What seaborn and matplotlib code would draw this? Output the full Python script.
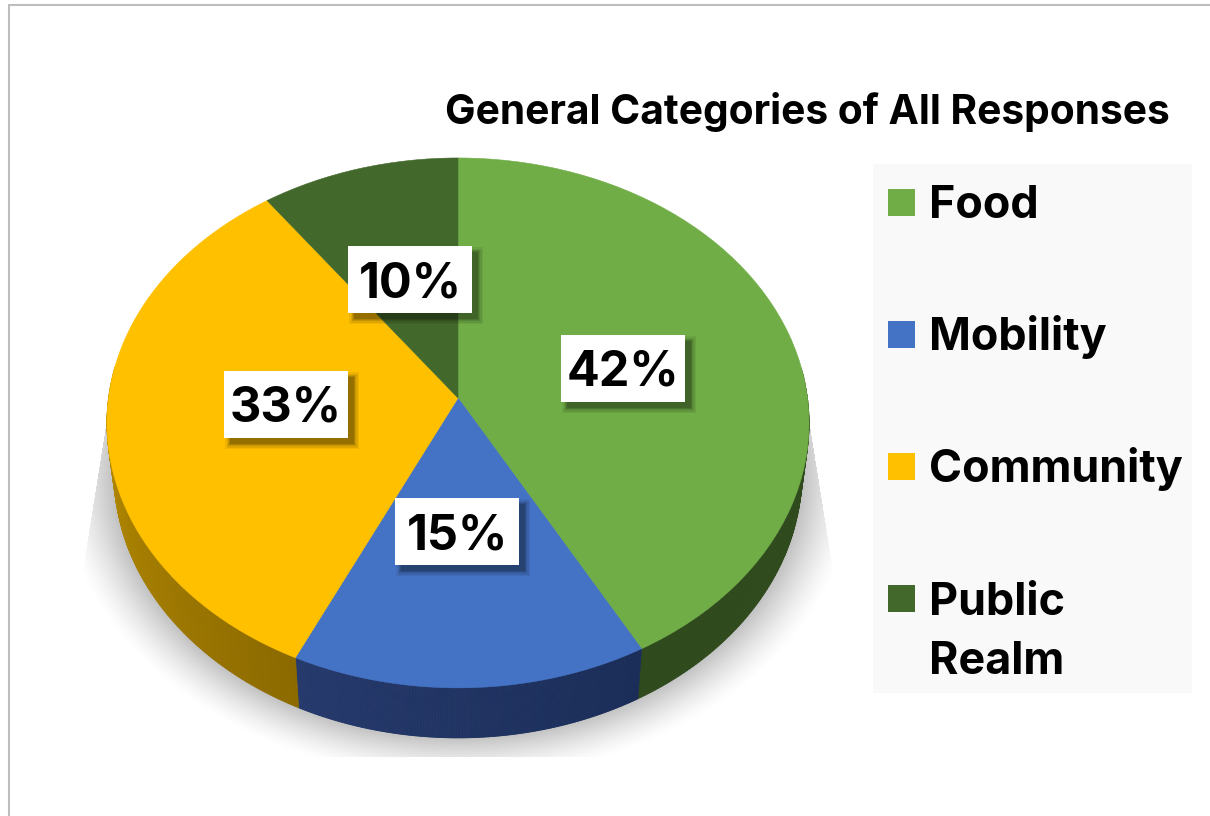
import numpy as np
import matplotlib
matplotlib.use("Agg")
import matplotlib.pyplot as plt
import seaborn as sns
from matplotlib.collections import PolyCollection
from matplotlib.colors import to_rgb
from matplotlib.patches import Rectangle
from matplotlib.path import Path
from matplotlib.transforms import Affine2D, Transform

categories = ["Food", "Mobility", "Community", "Public Realm"]
legend_labels = ["Food", "Mobility", "Community", "Public\nRealm"]
shares = [42, 15, 33, 10]
top_colors = ["#70ad47", "#4472c4", "#ffc000", "#43682b"]
wall_left = ["#2f4a1c", "#25396c", "#bd9000", "#2f4a1c"]
wall_right = ["#2f4a1c", "#1a2d58", "#8c6a00", "#2f4a1c"]

sns.set_theme(style="white")
plt.rcParams["font.family"] = ["Inter", "DejaVu Sans"]

# Tilted-disc geometry, in canvas pixels
APEX_X, APEX_Y = 458.0, 398.0
RADIUS_X, RADIUS_Y, TILT = 349.5, 262.6, 0.094
DEPTH, WALL_SHRINK = 50.0, 0.98


def project(xy):
    xy = np.asarray(xy, dtype=float)
    w = 1.0 + TILT * xy[..., 1]
    return np.stack([APEX_X + RADIUS_X * xy[..., 0] / w,
                     APEX_Y - RADIUS_Y * xy[..., 1] / w], axis=-1)


class TiltProjection(Transform):
    input_dims = output_dims = 2
    is_affine = False

    def transform_non_affine(self, values):
        return project(values)

    def transform_path_non_affine(self, path):
        fine = path.transformed(Affine2D().scale(600)).to_polygons(closed_only=True)[0] / 600
        return Path(project(fine), closed=True)


fig = plt.figure(figsize=(12.10, 8.16), dpi=100, facecolor="white")
ax = fig.add_axes([0, 0, 1, 1])

wedges, _ = ax.pie(shares, colors=top_colors, startangle=90, counterclock=False, radius=1.0)
ax.set_aspect("auto")
ax.axis("off")

# Soft cast shadow below the disc
gx, gy = np.meshgrid(np.arange(1210) + 0.5, np.arange(816) + 0.5)
reach = (np.hypot((gx - APEX_X) / 345.0, (gy - 473.0) / 265.0) - 1.0) * 300.0
fade = np.clip(reach / 48.0, 0, 1)
alpha = 0.24 * (1 - fade) ** 1.4
alpha[(gy < 415) | (gy > 757)] = 0
alpha[gx < 107 - (gy - 420) * 0.16] = 0
alpha[gx > 809 + (gy - 420) * 0.16] = 0
rgba = np.zeros((816, 1210, 4))
rgba[..., 3] = alpha
ax.imshow(rgba, extent=(0, 1210, 816, 0), aspect="auto", zorder=1, interpolation="bilinear")
ax.set_xlim(0, 1210)
ax.set_ylim(816, 0)

# Outer wall of every slice, shaded from left to right; only the front half shows
for wedge, c_left, c_right in zip(wedges, wall_left, wall_right):
    angles = np.radians(np.linspace(wedge.theta1, wedge.theta2, 240))
    angles = angles[np.sin(angles) < 0.12]
    if angles.size < 2:
        continue
    rim = project(np.column_stack([np.cos(angles), np.sin(angles)]))
    foot = np.column_stack([APEX_X + (rim[:, 0] - APEX_X) * WALL_SHRINK, rim[:, 1] + DEPTH])
    order = np.argsort(rim[:, 0])
    rim, foot = rim[order], foot[order]
    quads = [[rim[i], rim[i + 1], foot[i + 1], foot[i]] for i in range(len(rim) - 1)]
    mix = np.linspace(0, 1, len(quads))[:, None]
    shades = np.array(to_rgb(c_left)) * (1 - mix) + np.array(to_rgb(c_right)) * mix
    ax.add_collection(PolyCollection(quads, facecolors=shades, edgecolors=shades, linewidths=0.6, zorder=2))

# Top faces of the slices
for wedge, color in zip(wedges, top_colors):
    wedge.set_transform(TiltProjection() + ax.transData)
    wedge.set_edgecolor(color)
    wedge.set_linewidth(0.4)
    wedge.set_zorder(3)

# Value labels on white plates with a soft offset shadow
plate_w, plate_h = 124, 67
plates = [(561, 335), (395, 498), (224, 371), (348, 246)]
for value, (px, py) in zip(shares, plates):
    for grow, a in zip((5, 3.5, 2, 1, 0), (0.06, 0.08, 0.1, 0.12, 0.14)):
        ax.add_patch(Rectangle((px + 6 - grow, py + 6 - grow), plate_w + 2 * grow, plate_h + 2 * grow,
                               facecolor="black", edgecolor="none", alpha=a, zorder=4))
    ax.add_patch(Rectangle((px, py), plate_w, plate_h, facecolor="white", edgecolor="none", zorder=5))
    ax.text(px + plate_w / 2, py + 51, f"{value}%", ha="center", va="baseline",
            fontsize=35, fontweight="bold", color="black", zorder=6)

# Legend panel
ax.add_patch(Rectangle((873, 164), 319, 529, facecolor="#f9f9f9", edgecolor="none", zorder=1))
rows = [218, 350, 482, 614]
for label, color, base in zip(legend_labels, top_colors, rows):
    ax.add_patch(Rectangle((888, base - 29), 27, 27, facecolor=color, edgecolor="none", zorder=3))
    ax.text(929, base + 60 * label.count("\n"), label, ha="left", va="baseline", fontsize=32.3,
            fontweight="bold", color="black", linespacing=1.52, zorder=3)

ax.text(445, 124, "General Categories of All Responses", ha="left", va="baseline",
        fontsize=29.3, fontweight="bold", color="black", zorder=3)

# Thin slide border along the top and left
ax.plot([9, 1210], [4.5, 4.5], color="#bdbdbd", lw=1.5, zorder=1, solid_capstyle="butt")
ax.plot([9, 9], [4, 816], color="#bdbdbd", lw=1.5, zorder=1, solid_capstyle="butt")

fig.savefig("out.png", dpi=100, facecolor="white")
